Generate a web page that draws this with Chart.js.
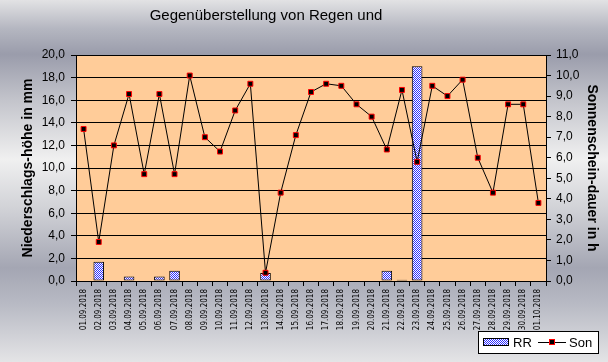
<!DOCTYPE html>
<html>
<head>
<meta charset="utf-8">
<script src="https://cdn.jsdelivr.net/npm/chart.js@4"></script>
<style>
  html, body { margin: 0; padding: 0; }
  body {
    width: 608px; height: 362px; overflow: hidden;
    background: linear-gradient(to bottom, #e2e2e4 0%, #b4b6c0 8%, #9a9cab 15%, #c4c5cc 28%, #f0f0f0 44%, #d0d1d6 58%, #a4a6b3 74%, #b8bac4 84%, #e4e4e6 100%);
  }
  .chart { position: relative; width: 608px; height: 362px; }
</style>
</head>
<body>
<div class="chart"><canvas class="canvas-class" width="608" height="362"></canvas></div>
<script>
const TITLE = 'Gegenüberstellung von Regen und';
const dates = ['01.09.2018', '02.09.2018', '03.09.2018', '04.09.2018', '05.09.2018', '06.09.2018', '07.09.2018',
  '08.09.2018', '09.09.2018', '10.09.2018', '11.09.2018', '12.09.2018', '13.09.2018', '14.09.2018', '15.09.2018',
  '16.09.2018', '17.09.2018', '18.09.2018', '19.09.2018', '20.09.2018', '21.09.2018', '22.09.2018', '23.09.2018',
  '24.09.2018', '25.09.2018', '26.09.2018', '27.09.2018', '28.09.2018', '29.09.2018', '30.09.2018', '01.10.2018'];
// Niederschlag RR in mm
const rain = [0, 1.7, 0, 0.4, 0, 0.4, 0.9, 0, 0, 0, 0, 0, 0.7, 0, 0, 0, 0, 0, 0, 0, 0.9, 0.1, 19.0, 0, 0, 0, 0, 0, 0, 0, 0];
// Sonnenscheindauer in h
const sun = [7.4, 1.9, 6.6, 9.1, 5.2, 9.1, 5.2, 10.0, 7.0, 6.3, 8.3, 9.6, 0.4, 4.3, 7.1, 9.2, 9.6, 9.5, 8.6, 8.0,
  6.4, 9.3, 5.8, 9.5, 9.0, 9.8, 6.0, 4.3, 8.6, 8.6, 3.8];
const leftTicks = ['0,0', '2,0', '4,0', '6,0', '8,0', '10,0', '12,0', '14,0', '16,0', '18,0', '20,0'];
const rightTicks = ['0,0', '1,0', '2,0', '3,0', '4,0', '5,0', '6,0', '7,0', '8,0', '9,0', '10,0', '11,0'];

function makePattern() {
  const c = document.createElement('canvas');
  c.width = 2;
  c.height = 2;
  const g = c.getContext('2d');
  g.fillStyle = '#ffffff';
  g.fillRect(0, 0, 2, 2);
  g.fillStyle = '#2f2fff';
  g.fillRect(0, 0, 1, 1);
  g.fillRect(1, 1, 1, 1);
  return g.createPattern(c, 'repeat');
}

const hatch = makePattern();
const FONT = "'Liberation Sans', Arial, sans-serif";

const backdrop = {
  id: 'backdrop',
  beforeDraw(chart) {
    const { ctx, chartArea: a } = chart;
    ctx.save();
    ctx.fillStyle = '#ffcc99';
    ctx.fillRect(a.left, a.top, a.right - a.left, a.bottom - a.top);
    ctx.restore();
  },
  afterDraw(chart) {
    const ctx = chart.ctx;
    ctx.save();
    // title
    ctx.fillStyle = '#000';
    ctx.font = '15px ' + FONT;
    ctx.textAlign = 'center';
    ctx.textBaseline = 'middle';
    ctx.fillText(TITLE, 266, 16);
    // legend box
    ctx.fillStyle = '#fff';
    ctx.fillRect(478, 331, 121, 23);
    ctx.strokeStyle = '#000';
    ctx.lineWidth = 1;
    ctx.strokeRect(478.5, 331.5, 120, 22);
    ctx.fillStyle = hatch;
    ctx.fillRect(483, 338, 26, 8);
    ctx.strokeRect(483.5, 338.5, 25, 7);
    ctx.fillStyle = '#000';
    ctx.font = '13px ' + FONT;
    ctx.textAlign = 'left';
    ctx.fillText('RR', 513, 343);
    ctx.beginPath();
    ctx.moveTo(538, 342.5);
    ctx.lineTo(566, 342.5);
    ctx.stroke();
    ctx.fillStyle = '#000';
    ctx.fillRect(549, 339, 6, 6);
    ctx.strokeStyle = '#ff0000';
    ctx.strokeRect(549.5, 339.5, 5, 5);
    ctx.fillStyle = '#000';
    ctx.fillText('Son', 569, 343);
    ctx.restore();
  },
};

const chart = new Chart(document.querySelector('.canvas-class'), {
  data: {
    labels: dates,
    datasets: [
      {
        type: 'line',
        label: 'Son',
        data: sun,
        yAxisID: 'y1',
        order: 0,
        borderColor: '#000',
        borderWidth: 1,
        tension: 0,
        pointStyle: 'rect',
        pointRadius: 3.5,
        pointBorderWidth: 1,
        pointBorderColor: '#ff0000',
        pointBackgroundColor: '#000',
      },
      {
        type: 'bar',
        label: 'RR',
        data: rain,
        yAxisID: 'y',
        order: 1,
        backgroundColor: hatch,
        borderColor: '#000',
        borderWidth: 1,
        borderSkipped: false,
        barPercentage: 0.7,
        categoryPercentage: 1,
      },
    ],
  },
  options: {
    responsive: false,
    animation: false,
    events: [],
    layout: { padding: { top: 55, left: 0, right: 0, bottom: 0 } },
    plugins: {
      legend: { display: false },
      title: { display: false },
      tooltip: { enabled: false },
    },
    scales: {
      x: {
        offset: true,
        grid: { offset: true, drawOnChartArea: false, color: '#000', tickLength: 5 },
        border: { color: '#000' },
        ticks: {
          autoSkip: false,
          minRotation: 90,
          maxRotation: 90,
          padding: 3,
          color: '#000',
          font: { family: "'DejaVu Sans Condensed', " + FONT, size: 8 },
        },
        afterFit(s) { s.height = 81; },
      },
      y: {
        position: 'left',
        min: 0,
        max: 20,
        ticks: {
          stepSize: 2,
          padding: 6,
          color: '#000',
          font: { family: FONT, size: 12 },
          callback: (v, i) => leftTicks[i],
        },
        grid: { color: '#000', tickLength: 5 },
        border: { color: '#000' },
        title: {
          display: true,
          text: 'Niederschlags-höhe in mm',
          color: '#000',
          font: { family: FONT, size: 14, weight: 'bold' },
          padding: { top: 20, bottom: 0 },
        },
        afterFit(s) { s.width = 76; },
      },
      y1: {
        position: 'right',
        min: 0,
        max: 11,
        ticks: {
          stepSize: 1,
          padding: 5,
          color: '#000',
          font: { family: FONT, size: 12 },
          callback: (v, i) => rightTicks[i],
        },
        grid: { drawOnChartArea: false, color: '#000', tickLength: 5 },
        border: { color: '#000' },
        title: {
          display: true,
          text: 'Sonnenschein-dauer in h',
          color: '#000',
          font: { family: FONT, size: 14, weight: 'bold' },
          padding: { top: 8, bottom: 0 },
        },
        afterFit(s) { s.width = 62; },
      },
    },
  },
  plugins: [backdrop],
});
</script>
</body>
</html>
